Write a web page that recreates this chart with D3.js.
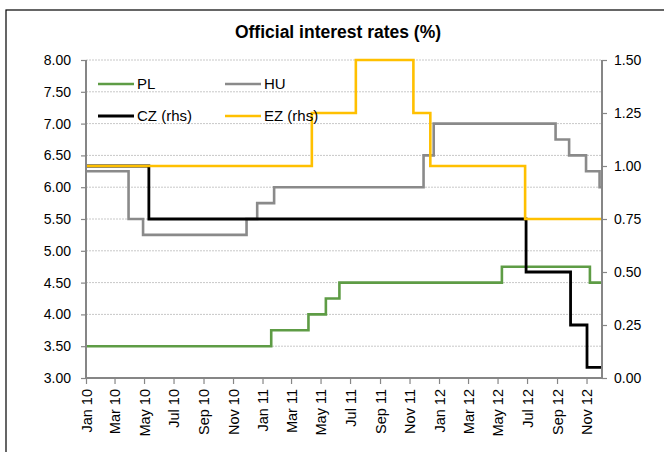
<!DOCTYPE html>
<html><head><meta charset="utf-8">
<script src="https://cdn.jsdelivr.net/npm/d3@7/dist/d3.min.js"></script>
<style>
body{margin:0;background:#fff;}
text{font-family:"Liberation Sans",Arial,sans-serif;}
</style></head>
<body><svg id="c" width="664" height="452"></svg>
<script>
// Step-change dates and levels (value holds from date until next date)
const plDates = ["2010-01-01","2011-01-19","2011-04-06","2011-05-12","2011-06-09","2012-05-10","2012-11-08"];
const plValues = [3.50,3.75,4.00,4.25,4.50,4.75,4.50];
const huDates = ["2010-01-01","2010-03-30","2010-04-29","2010-11-29","2010-12-21","2011-01-25","2011-11-30","2011-12-21","2012-08-29","2012-09-26","2012-10-31","2012-11-28"];
const huValues = [6.25,5.50,5.25,5.50,5.75,6.00,6.50,7.00,6.75,6.50,6.25,6.00];
const czDates = ["2010-01-01","2010-05-11","2012-06-29","2012-09-29","2012-11-02"];
const czValues = [1.00,0.75,0.50,0.25,0.05];
const ezDates = ["2010-01-01","2011-04-13","2011-07-13","2011-11-09","2011-12-14","2012-06-27"];
const ezValues = [1.00,1.25,1.50,1.25,1.00,0.75];
const endDate = "2012-12-03";
const leftTicks = [3.00,3.50,4.00,4.50,5.00,5.50,6.00,6.50,7.00,7.50,8.00];
const rightTicks = [0.00,0.25,0.50,0.75,1.00,1.25,1.50];
const title = "Official interest rates (%)";

const svg = d3.select("#c");
const parse = d3.timeParse("%Y-%m-%d");
const L = 86, R = 602, T = 60, B = 378;

svg.append("rect").attr("x",6).attr("y",10).attr("width",700).attr("height",500)
  .attr("fill","none").attr("stroke","#000").attr("stroke-width",1.2);

const x = d3.scaleTime().domain([parse("2010-01-01"), parse(endDate)]).range([L, R]);
const yL = d3.scaleLinear().domain([3,8]).range([B, T]);
const yR = d3.scaleLinear().domain([0,1.5]).range([B, T]);

// gridlines
svg.append("g").selectAll("line").data(leftTicks.filter(d=>d>3)).join("line")
  .attr("x1",L).attr("x2",R).attr("y1",d=>yL(d)).attr("y2",d=>yL(d))
  .attr("stroke","#c8c8c8").attr("stroke-width",1).attr("stroke-dasharray","2,1");

svg.append("text").attr("x",338).attr("y",38).attr("text-anchor","middle")
  .attr("font-size",17.5).attr("font-weight","bold").text(title);

function series(dates, vals){
  const pts = dates.map((d,i)=>({d:parse(d), v:vals[i]}));
  pts.push({d:parse(endDate), v:vals[vals.length-1]});
  return pts;
}
const lineL = d3.line().x(p=>x(p.d)).y(p=>yL(p.v)).curve(d3.curveStepAfter);
const lineR = d3.line().x(p=>x(p.d)).y(p=>yR(p.v)).curve(d3.curveStepAfter);

const defs = [
  {pts:series(plDates,plValues), line:lineL, color:"#5e9c45", w:2.6},
  {pts:series(huDates,huValues), line:lineL, color:"#8a8a8a", w:2.6},
  {pts:series(czDates,czValues), line:lineR, color:"#000000", w:2.8},
  {pts:series(ezDates,ezValues), line:lineR, color:"#ffc000", w:2.6}
];
defs.forEach(s=>{
  svg.append("path").attr("d",s.line(s.pts)).attr("fill","none")
    .attr("stroke",s.color).attr("stroke-width",s.w).attr("stroke-linejoin","miter");
});

// axes
const axisColor = "#868686";
const gl = svg.append("g").attr("transform",`translate(${L},0)`)
  .call(d3.axisLeft(yL).tickValues(leftTicks).tickFormat(d3.format(".2f")).tickSize(5).tickPadding(10));
const gr = svg.append("g").attr("transform",`translate(${R},0)`)
  .call(d3.axisRight(yR).tickValues(rightTicks).tickFormat(d3.format(".2f")).tickSize(5).tickPadding(7));
const xTicks = d3.timeMonth.every(2).range(parse("2010-01-01"), parse("2012-12-02"));
const gx = svg.append("g").attr("transform",`translate(0,${B})`)
  .call(d3.axisBottom(x).tickValues(xTicks).tickFormat(d3.timeFormat("%b %y")).tickSize(6).tickPadding(8));
gx.selectAll("text").attr("transform","rotate(-90)").attr("text-anchor","end")
  .attr("x",-11).attr("y",0).attr("dy","0.35em");
[gl,gr,gx].forEach(g=>{
  g.select(".domain").attr("stroke",axisColor).attr("stroke-width",2);
  g.selectAll(".tick line").attr("stroke",axisColor).attr("stroke-width",1.2);
  g.selectAll("text").attr("font-size",14).attr("fill","#000").attr("font-family","Liberation Sans, Arial, sans-serif");
});
gx.selectAll("text").attr("font-size",14.5);
gl.select(".domain").attr("d",`M-0,${B}V${T}`);
gr.select(".domain").attr("d",`M0,${B}V${T}`);
gx.select(".domain").attr("d",`M${L},0H${R}`);

// legend
const legend = [
  {name:"PL", color:"#5e9c45", x:98, y:84},
  {name:"HU", color:"#8a8a8a", x:225, y:84},
  {name:"CZ (rhs)", color:"#000000", x:98, y:116},
  {name:"EZ (rhs)", color:"#ffc000", x:225, y:116}
];
const lg = svg.append("g").selectAll("g").data(legend).join("g");
lg.append("line").attr("x1",d=>d.x).attr("x2",d=>d.x+36).attr("y1",d=>d.y).attr("y2",d=>d.y)
  .attr("stroke",d=>d.color).attr("stroke-width",d=>d.name.startsWith("CZ")?2.8:2.6);
lg.append("text").attr("x",d=>d.x+39).attr("y",d=>d.y).attr("dy","0.35em")
  .attr("font-size",15).text(d=>d.name);
</script></body></html>
